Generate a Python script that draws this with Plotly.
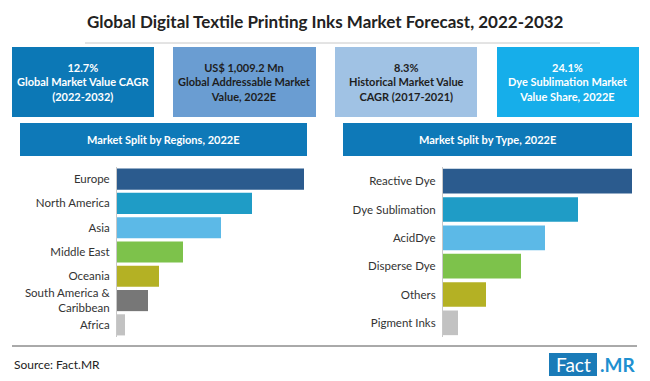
import plotly.graph_objects as go

W, H = 650, 381

title_text = "Global Digital Textile Printing Inks Market Forecast, 2022-2032"

kpi_texts = [
    "12.7%<br>Global Market Value CAGR<br>(2022-2032)",
    "US$ 1,009.2 Mn<br>Global Addressable Market<br>Value, 2022E",
    "8.3%<br>Historical Market Value<br>CAGR (2017-2021)",
    "24.1%<br>Dye Sublimation Market<br>Value Share, 2022E",
]
kpi_colors = ["#0C78B6", "#6A9DD2", "#A0C2E4", "#16AEEA"]
kpi_text_colors = ["#FFFFFF", "#1E1E1E", "#1E1E1E", "#FFFFFF"]

regions = ["Europe", "North America", "Asia", "Middle East", "Oceania",
           "South America &<br>Caribbean", "Africa"]
region_values = [187, 135, 104, 66, 42, 31, 8]
region_colors = ["#2B5B8E", "#1F9CC6", "#5CB9E7", "#7DC24B", "#B4B124", "#777777", "#C2C2C2"]

types = ["Reactive Dye", "Dye Sublimation", "AcidDye", "Disperse Dye", "Others", "Pigment Inks"]
type_values = [189, 135, 102, 78, 43, 15]
type_colors = ["#2B5B8E", "#1F9CC6", "#5CB9E7", "#7DC24B", "#B4B124", "#C2C2C2"]

FONT = "Lato"


def px(x):
    return x / W


def py(y):
    return 1 - y / H


fig = go.Figure()

fig.add_trace(go.Bar(
    y=regions, x=region_values, orientation="h",
    marker=dict(color=region_colors, line=dict(width=0)),
    xaxis="x", yaxis="y", showlegend=False, hoverinfo="x+y",
))
fig.add_trace(go.Bar(
    y=types, x=type_values, orientation="h",
    marker=dict(color=type_colors, line=dict(width=0)),
    xaxis="x2", yaxis="y2", showlegend=False, hoverinfo="x+y",
))

shapes = []
annotations = []

# title + underline
annotations.append(dict(x=px(325), y=py(21), xref="paper", yref="paper",
                        text=title_text, showarrow=False, xanchor="center", yanchor="middle",
                        font=dict(family=FONT, size=17, color="#222222", weight="bold")))
shapes.append(dict(type="line", xref="paper", yref="paper",
                   x0=px(85), x1=px(600), y0=py(43), y1=py(43),
                   line=dict(color="#C8C8C8", width=1)))

# KPI boxes
box_x = [(12, 154), (173, 316), (335, 477), (497, 639)]
for (x0, x1), txt, col, tcol in zip(box_x, kpi_texts, kpi_colors, kpi_text_colors):
    shapes.append(dict(type="rect", xref="paper", yref="paper",
                       x0=px(x0), x1=px(x1), y0=py(117), y1=py(47),
                       fillcolor=col, line=dict(width=0), layer="below"))
    annotations.append(dict(x=px((x0 + x1) / 2), y=py(82), xref="paper", yref="paper",
                            text=txt, showarrow=False, xanchor="center", yanchor="middle",
                            align="center",
                            font=dict(family=FONT, size=11, color=tcol, weight="bold")))

# section headers
headers = [("Market Split by Regions, 2022E", 20, 307), ("Market Split by Type, 2022E", 343, 632)]
for txt, x0, x1 in headers:
    shapes.append(dict(type="rect", xref="paper", yref="paper",
                       x0=px(x0), x1=px(x1), y0=py(156), y1=py(123),
                       fillcolor="#0E79B8", line=dict(width=0), layer="below"))
    annotations.append(dict(x=px((x0 + x1) / 2), y=py(139.5), xref="paper", yref="paper",
                            text=txt, showarrow=False, xanchor="center", yanchor="middle",
                            font=dict(family=FONT, size=11, color="#FFFFFF", weight="bold")))

# footer
shapes.append(dict(type="line", xref="paper", yref="paper",
                   x0=px(12), x1=px(637), y0=py(346), y1=py(346),
                   line=dict(color="#555555", width=1)))
annotations.append(dict(x=px(12), y=py(364), xref="paper", yref="paper",
                        text="Source: Fact.MR", showarrow=False, xanchor="left", yanchor="middle",
                        font=dict(family=FONT, size=12, color="#222222")))
shapes.append(dict(type="rect", xref="paper", yref="paper",
                   x0=px(549), x1=px(597), y0=py(376), y1=py(353),
                   fillcolor="#1A7BB8", line=dict(width=0), layer="below"))
annotations.append(dict(x=px(573), y=py(364.5), xref="paper", yref="paper",
                        text="Fact", showarrow=False, xanchor="center", yanchor="middle",
                        font=dict(family=FONT, size=19, color="#FFFFFF")))
annotations.append(dict(x=px(598), y=py(364.5), xref="paper", yref="paper",
                        text=".MR", showarrow=False, xanchor="left", yanchor="middle",
                        font=dict(family=FONT, size=19, color="#1E90D0", weight="bold")))

ydom = [py(337), py(167)]

fig.update_layout(
    width=W, height=H,
    margin=dict(l=0, r=0, t=0, b=0),
    paper_bgcolor="#FFFFFF", plot_bgcolor="rgba(0,0,0,0)",
    bargap=0.13,
    shapes=shapes, annotations=annotations,
    xaxis=dict(domain=[px(117), px(310)], range=[0, 193], visible=False, fixedrange=True),
    yaxis=dict(domain=ydom, range=[6.5, -0.5], type="category", showline=True,
               linecolor="#C8C8C8", linewidth=1, ticks="", showgrid=False,
               tickfont=dict(family=FONT, size=11.5, color="#333333"), ticklabelstandoff=4,
               anchor="x", fixedrange=True),
    xaxis2=dict(domain=[px(443), px(640)], range=[0, 197], visible=False, fixedrange=True),
    yaxis2=dict(domain=ydom, range=[5.5, -0.5], type="category", showline=True,
                linecolor="#C8C8C8", linewidth=1, ticks="", showgrid=False,
                tickfont=dict(family=FONT, size=11.5, color="#333333"), ticklabelstandoff=4,
                anchor="x2", fixedrange=True),
)

fig.write_html("out.html", config={"displayModeBar": False},
               post_script="document.body.style.margin='0px';document.body.style.overflow='hidden';")
